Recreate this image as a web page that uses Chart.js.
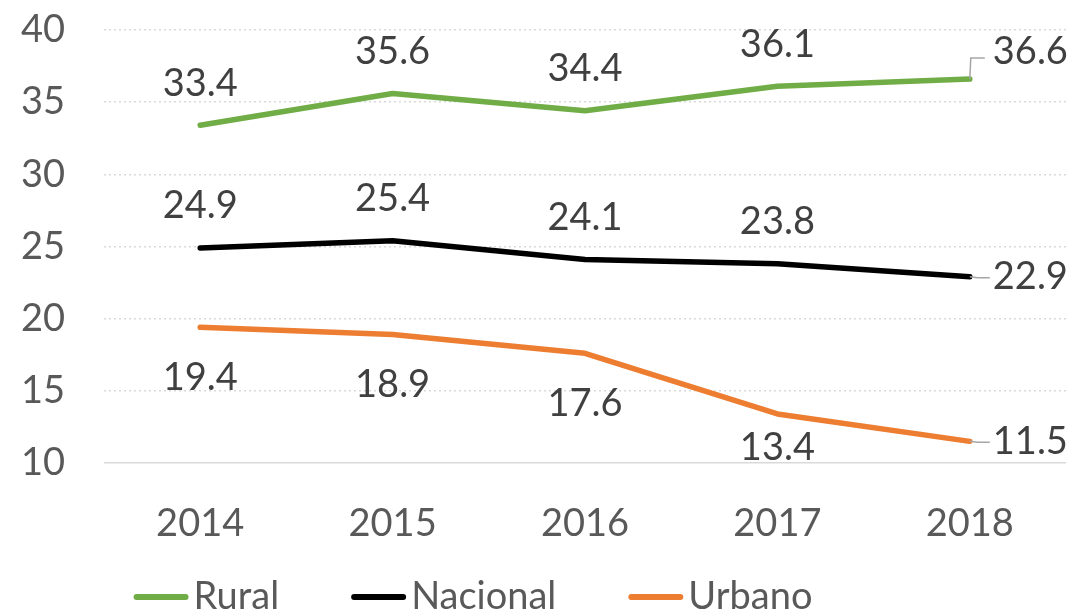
<!DOCTYPE html>
<html>
<head>
<meta charset="utf-8">
<script src="https://cdn.jsdelivr.net/npm/chart.js@4"></script>
<style>
  html, body { margin: 0; padding: 0; background: #fff; }
  #wrap { width: 1079px; height: 612px; }
</style>
</head>
<body>
<div id="wrap"><canvas id="line-chart"></canvas></div>
<script>
var years = ['2014', '2015', '2016', '2017', '2018'];
var rural = [33.4, 35.6, 34.4, 36.1, 36.6];
var nacional = [24.9, 25.4, 24.1, 23.8, 22.9];
var urbano = [19.4, 18.9, 17.6, 13.4, 11.5];
var seriesNames = ['Rural', 'Nacional', 'Urbano'];
var yTicks = [10, 15, 20, 25, 30, 35, 40];

var FONT = 'Lato, "Open Sans", sans-serif';

// labels above/below points, last one pushed to the right with a little leader line
var valueLabels = {
  id: 'valueLabels',
  afterDatasetsDraw: function(chart) {
    var ctx = chart.ctx;
    var area = chart.chartArea;
    ctx.save();
    ctx.font = '38px ' + FONT;
    ctx.fillStyle = '#404040';
    ctx.textBaseline = 'middle';
    chart.data.datasets.forEach(function(ds, i) {
      var meta = chart.getDatasetMeta(i);
      meta.data.forEach(function(pt, j) {
        var txt = ds.data[j].toFixed(1);
        if (j == meta.data.length - 1) {
          var dy = ds.lastDy;
          ctx.strokeStyle = '#A6A6A6';
          ctx.lineWidth = 1.5;
          ctx.beginPath();
          ctx.moveTo(pt.x, pt.y);
          if (dy < 0) {
            ctx.lineTo(pt.x + 1, pt.y + dy + 6);
            ctx.lineTo(pt.x + 15, pt.y + dy + 6);
          } else {
            ctx.lineTo(pt.x + 8, pt.y + 1);
            ctx.lineTo(pt.x + 20, pt.y + 1);
          }
          ctx.stroke();
          ctx.textAlign = 'left';
          ctx.fillText(txt, pt.x + 23, pt.y + dy);
        } else {
          var y = pt.y + ds.labelDy;
          if (y > area.bottom - 15) y = area.bottom - 15;
          ctx.textAlign = 'center';
          ctx.fillText(txt, pt.x, y);
        }
      });
    });
    ctx.restore();
  }
};

// legend drawn by hand: short thick line then the name, tight gap
var lineLegend = {
  id: 'lineLegend',
  afterDraw: function(chart) {
    var ctx = chart.ctx;
    ctx.save();
    ctx.font = '38px ' + FONT;
    ctx.textBaseline = 'middle';
    ctx.textAlign = 'left';
    var mark = 55, gap = 5, space = 72;
    var sets = chart.data.datasets;
    var total = 0;
    sets.forEach(function(ds, i) {
      total += mark + gap + ctx.measureText(ds.label).width;
      if (i < sets.length - 1) total += space;
    });
    var x = 473 - total / 2;
    var y = 597;
    sets.forEach(function(ds) {
      ctx.strokeStyle = ds.borderColor;
      ctx.lineWidth = 6;
      ctx.lineCap = 'round';
      ctx.beginPath();
      ctx.moveTo(x + 3, y);
      ctx.lineTo(x + mark - 3, y);
      ctx.stroke();
      x += mark + gap;
      ctx.fillStyle = '#595959';
      ctx.fillText(ds.label, x, y);
      x += ctx.measureText(ds.label).width + space;
    });
    ctx.restore();
  }
};

new Chart(document.getElementById('line-chart'), {
  type: 'line',
  data: {
    labels: years,
    datasets: [{
      label: seriesNames[0],
      data: rural,
      borderColor: '#70AD47',
      labelDy: -42,
      lastDy: -27
    }, {
      label: seriesNames[1],
      data: nacional,
      borderColor: '#000000',
      labelDy: -42,
      lastDy: 0
    }, {
      label: seriesNames[2],
      data: urbano,
      borderColor: '#ED7D31',
      labelDy: 50,
      lastDy: 0
    }]
  },
  options: {
    responsive: true,
    maintainAspectRatio: false,
    animation: false,
    layout: { padding: { left: 0, right: 13, top: 30, bottom: 74 } },
    elements: {
      line: { borderWidth: 5.5, tension: 0, fill: false, borderCapStyle: 'round', borderJoinStyle: 'round' },
      point: { radius: 0, hoverRadius: 0 }
    },
    plugins: {
      legend: { display: false },
      tooltip: { enabled: false }
    },
    scales: {
      x: {
        offset: true,
        grid: { display: false },
        border: { display: false },
        ticks: { color: '#595959', font: { family: FONT, size: 38 }, padding: 30, maxRotation: 0 },
        afterFit: function(s) { s.height = 75; s.paddingLeft = 0; s.paddingRight = 0; }
      },
      y: {
        min: 10,
        max: 40,
        afterBuildTicks: function(s) { s.ticks = yTicks.map(function(v) { return { value: v }; }); },
        grid: {
          color: '#D9D9D9',
          lineWidth: 1.5,
          drawTicks: false
        },
        border: {
          display: false,
          dash: function(c) { return c.tick && c.tick.value == 10 ? [] : [2, 3]; }
        },
        ticks: { color: '#595959', font: { family: FONT, size: 38 }, padding: 39 },
        afterFit: function(s) { s.width = 104; s.paddingTop = 0; s.paddingBottom = 0; }
      }
    }
  },
  plugins: [valueLabels, lineLegend]
});
</script>
</body>
</html>
